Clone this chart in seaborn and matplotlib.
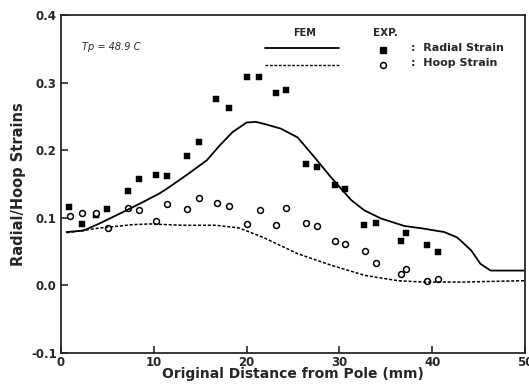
import numpy as np
import pandas as pd
import matplotlib
matplotlib.use('Agg')
import matplotlib.pyplot as plt
import seaborn as sns

radial_x = [0.9, 2.3, 3.8, 5.0, 7.2, 8.4, 10.2, 11.4, 13.6, 14.9, 16.7, 18.1, 20.1, 21.3,
            23.2, 24.3, 26.4, 27.6, 29.5, 30.6, 32.7, 34.0, 36.6, 37.2, 39.4, 40.6]
radial_y = [0.116, 0.091, 0.104, 0.113, 0.139, 0.157, 0.163, 0.162, 0.192, 0.212, 0.276, 0.263, 0.309, 0.309,
            0.284, 0.289, 0.179, 0.175, 0.149, 0.142, 0.090, 0.093, 0.065, 0.077, 0.060, 0.050]

hoop_x = [1.0, 2.3, 3.8, 5.1, 7.2, 8.4, 10.2, 11.4, 13.6, 14.9, 16.8, 18.1, 20.1, 21.4,
          23.2, 24.3, 26.4, 27.6, 29.5, 30.6, 32.8, 34.0, 36.6, 37.2, 39.4, 40.6]
hoop_y = [0.103, 0.107, 0.107, 0.085, 0.115, 0.112, 0.096, 0.120, 0.113, 0.130, 0.122, 0.117, 0.091, 0.112,
          0.090, 0.114, 0.092, 0.088, 0.066, 0.062, 0.051, 0.033, 0.017, 0.025, 0.007, 0.010]

# FEM curves
fem_rad_x = [0.6, 2.4, 4.2, 6.3, 8.5, 10.6, 11.4, 13.5, 15.7, 17.1, 18.5, 20.0, 21.0, 21.9, 23.7,
             25.5, 27.3, 29.1, 31.3, 32.7, 34.5, 37.0, 39.1, 41.3, 42.7, 44.2, 45.2, 46.3, 49.9]
fem_rad_y = [0.079, 0.081, 0.092, 0.106, 0.121, 0.136, 0.143, 0.163, 0.185, 0.207, 0.227, 0.241, 0.242, 0.239, 0.232,
             0.219, 0.190, 0.160, 0.126, 0.111, 0.099, 0.088, 0.084, 0.079, 0.071, 0.052, 0.032, 0.022, 0.022]

fem_hoop_x = [0.6, 4.2, 7.8, 9.6, 13.1, 16.7, 19.2, 21.8, 25.5, 29.1, 32.7, 36.3, 39.1, 43.4, 49.9]
fem_hoop_y = [0.078, 0.085, 0.090, 0.091, 0.089, 0.089, 0.085, 0.071, 0.047, 0.030, 0.015, 0.007, 0.005, 0.005, 0.007]

xticks = [0, 10, 20, 30, 40, 50]
yticks = [-0.1, 0.0, 0.1, 0.2, 0.3, 0.4]

sns.set_style('ticks')
plt.rcParams['font.family'] = ['DejaVu Sans']

fig = plt.figure(figsize=(5.29, 3.84), dpi=100)
ax = fig.add_axes([0.1153, 0.0807, 0.877, 0.880])

sns.lineplot(x=fem_rad_x, y=fem_rad_y, ax=ax, color='black', lw=1.3, sort=False)
sns.lineplot(x=fem_hoop_x, y=fem_hoop_y, ax=ax, color='black', lw=1.1, sort=False, linestyle=(0, (2, 1.2)))
sns.scatterplot(x=radial_x, y=radial_y, ax=ax, marker='s', s=16, color='black', edgecolor='black')
sns.scatterplot(x=hoop_x, y=hoop_y, ax=ax, marker='o', s=18, facecolor='white', edgecolor='black', linewidth=1.1)

ax.set_xlim(0, 50)
ax.set_ylim(-0.1, 0.4)
ax.set_xticks(xticks)
ax.set_xticklabels([str(t) for t in xticks])
ax.set_yticks(yticks)
ax.set_yticklabels([f'{t:.1f}' for t in yticks])
ax.tick_params(direction='in', length=5, width=1.2, labelsize=8.5, pad=3)
ax.tick_params(axis='x', pad=2)
for lab in ax.get_xticklabels() + ax.get_yticklabels():
    lab.set_fontweight('bold')
for sp in ax.spines.values():
    sp.set_visible(True)
    sp.set_linewidth(1.3)

ax.set_xlabel('Original Distance from Pole (mm)', fontsize=10, fontweight='bold', labelpad=-1)
ax.set_ylabel('Radial/Hoop Strains', fontsize=10.5, fontweight='bold', labelpad=4)

ax.text(0.045, 0.905, 'Tp = 48.9 C', transform=ax.transAxes, fontsize=7, style='italic', va='center')

# hand-made legend
ax.text(0.526, 0.947, 'FEM', transform=ax.transAxes, fontsize=7, fontweight='bold', ha='center', va='center')
ax.text(0.70, 0.947, 'EXP.', transform=ax.transAxes, fontsize=7.5, fontweight='bold', ha='center', va='center')
ax.plot([0.44, 0.60], [0.902, 0.902], transform=ax.transAxes, color='black', lw=1.3)
ax.plot([0.44, 0.60], [0.852, 0.852], transform=ax.transAxes, color='black', lw=1.0, linestyle=(0, (2, 1.2)))
ax.scatter([0.694], [0.896], transform=ax.transAxes, marker='s', s=16, color='black')
ax.scatter([0.694], [0.852], transform=ax.transAxes, marker='o', s=18, facecolor='white', edgecolor='black', linewidth=1.1)
ax.text(0.755, 0.902, ':  Radial Strain', transform=ax.transAxes, fontsize=8, fontweight='bold', va='center')
ax.text(0.755, 0.858, ':  Hoop Strain', transform=ax.transAxes, fontsize=8, fontweight='bold', va='center')

fig.savefig('out.png', dpi=100)
